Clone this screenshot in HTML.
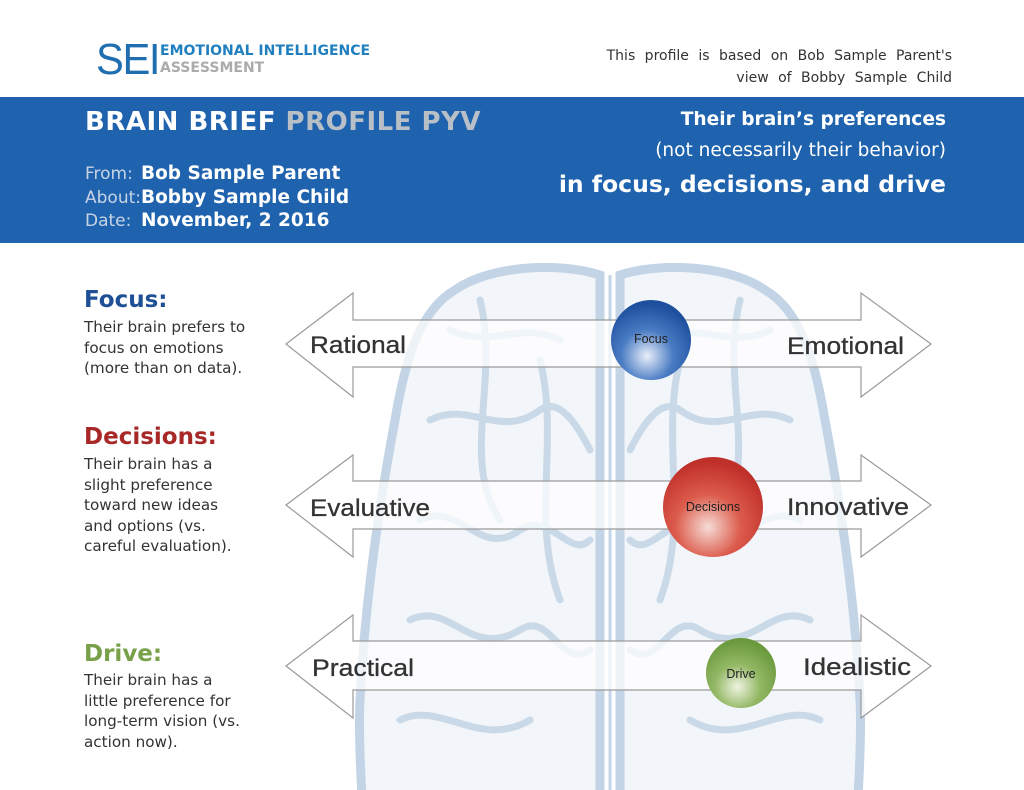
<!DOCTYPE html>
<html><head><meta charset="utf-8"><style>
*{margin:0;padding:0}
body{width:1024px;height:790px;position:relative;background:#fff;overflow:hidden;font-family:"DejaVu Sans","Liberation Sans",sans-serif}
.a{position:absolute;white-space:nowrap}
.band{position:absolute;left:0;top:97px;width:1024px;height:146px;background:#1f62ad}
.w{color:#fff;font-weight:bold}
.lab{color:#c8d4e6;font-size:17px}
.p{color:#333;font-size:15.2px;line-height:20.5px}
.h{font-size:23px;font-weight:bold}
</style></head><body>
<div class="a" style="left:96px;top:36px;font-family:'Liberation Sans',sans-serif;font-size:44px;color:#1f6fb0;letter-spacing:-1.5px;line-height:48px;transform:scaleX(0.95);transform-origin:left">SEI</div>
<div class="a" style="left:160px;top:43px;font-size:14px;font-weight:bold;color:#1f7fbf;line-height:17px">EMOTIONAL INTELLIGENCE</div>
<div class="a" style="left:160px;top:60px;font-size:14px;font-weight:bold;color:#a9abad;line-height:17px">ASSESSMENT</div>
<div class="a" style="right:72px;top:45px;font-size:14px;color:#333;text-align:right;line-height:22px;word-spacing:5px">This profile is based on Bob Sample Parent's<br>view of Bobby Sample Child</div>
<div class="band"></div>
<div class="a w" style="left:85px;top:107px;font-size:26px;letter-spacing:0.5px">BRAIN BRIEF <span style="color:#b9bfc7">PROFILE PYV</span></div>
<div class="a lab" style="left:85px;top:164px">From:</div>
<div class="a lab" style="left:85px;top:188px">About:</div>
<div class="a lab" style="left:85px;top:211px">Date:</div>
<div class="a w" style="left:141px;top:163px;font-size:18.5px">Bob Sample Parent</div>
<div class="a w" style="left:141px;top:187px;font-size:18.5px">Bobby Sample Child</div>
<div class="a w" style="left:141px;top:210px;font-size:18.5px">November, 2 2016</div>
<div class="a w" style="right:78px;top:109px;font-size:18.6px">Their brain’s preferences</div>
<div class="a" style="right:78px;top:140px;font-size:18.5px;color:#fff">(not necessarily their behavior)</div>
<div class="a w" style="right:78px;top:170px;font-size:23.5px">in focus, decisions, and drive</div>

<svg class="a" style="left:0;top:0" width="1024" height="790">
<defs>
<radialGradient id="gb" cx="0.45" cy="0.7" r="0.65"><stop offset="0" stop-color="#e8eef8"/><stop offset="0.5" stop-color="#4a7cc4"/><stop offset="1" stop-color="#1d4f9e"/></radialGradient>
<radialGradient id="gr" cx="0.45" cy="0.7" r="0.65"><stop offset="0" stop-color="#f6dcd6"/><stop offset="0.5" stop-color="#dc5c4c"/><stop offset="1" stop-color="#c0302a"/></radialGradient>
<radialGradient id="gg" cx="0.45" cy="0.7" r="0.65"><stop offset="0" stop-color="#eef3e0"/><stop offset="0.5" stop-color="#93b865"/><stop offset="1" stop-color="#6b9a3e"/></radialGradient>
</defs>
<g fill="#f2f5f9" stroke="#c2d4e6" stroke-width="9">
<path d="M600 275 C560 262 490 265 455 290 C420 310 405 360 395 420 C380 500 365 600 360 700 C358 740 362 790 362 800 L600 800 Z"/>
<path d="M620 275 C660 262 730 265 765 290 C800 310 815 360 825 420 C840 500 855 600 860 700 C862 740 858 790 858 800 L620 800 Z"/>
</g>
<g fill="none" stroke="#c9d9e8" stroke-width="7" stroke-linecap="round">
<path d="M450 330 C490 350 520 320 560 340 M430 420 C470 400 500 440 540 410 C560 395 580 430 590 450 M420 520 C460 500 480 560 520 530 C550 510 570 560 590 540 M410 620 C450 600 470 660 520 630 C550 610 560 670 590 650 M400 720 C440 700 480 750 530 720 M480 300 C500 380 460 460 500 520 M540 360 C560 440 530 520 560 600"/>
<path d="M770 330 C730 350 700 320 660 340 M790 420 C750 400 720 440 680 410 C660 395 640 430 630 450 M800 520 C760 500 740 560 700 530 C670 510 650 560 630 540 M810 620 C770 600 750 660 700 630 C670 610 660 670 630 650 M820 720 C780 700 740 750 690 720 M740 300 C720 380 760 460 720 520 M680 360 C660 440 690 520 660 600"/>
</g>
<line x1="610" y1="275" x2="610" y2="790" stroke="#c2d4e6" stroke-width="3"/>
<g fill="#fff" fill-opacity="0.72" stroke="#9a9a9a" stroke-width="1.2">
<path d="M286 344 L353 293 L353 320 L861 320 L861 293 L931 344 L861 397 L861 367 L353 367 L353 397 Z"/>
<path d="M286 505 L353 455 L353 481 L861 481 L861 455 L931 505 L861 557 L861 529 L353 529 L353 557 Z"/>
<path d="M286 666 L353 615 L353 641 L861 641 L861 615 L931 666 L861 718 L861 690 L353 690 L353 718 Z"/>
</g>
<g font-family="'Liberation Sans',sans-serif" fill="#333" stroke="#333" stroke-width="0.3" font-size="24">
<text x="310" y="353" textLength="96" lengthAdjust="spacingAndGlyphs">Rational</text>
<text x="787" y="354" textLength="117" lengthAdjust="spacingAndGlyphs">Emotional</text>
<text x="310" y="516" textLength="120" lengthAdjust="spacingAndGlyphs">Evaluative</text>
<text x="787" y="515" textLength="122" lengthAdjust="spacingAndGlyphs">Innovative</text>
<text x="312" y="676" textLength="102" lengthAdjust="spacingAndGlyphs">Practical</text>
<text x="803" y="675" textLength="108" lengthAdjust="spacingAndGlyphs">Idealistic</text>
</g>
<circle cx="651" cy="340" r="40" fill="url(#gb)"/>
<circle cx="713" cy="507" r="50" fill="url(#gr)"/>
<circle cx="741" cy="673" r="35" fill="url(#gg)"/>
<g font-family="'Liberation Sans',sans-serif" fill="#222" font-size="12.5" text-anchor="middle">
<text x="651" y="343">Focus</text>
<text x="713" y="511">Decisions</text>
<text x="741" y="678">Drive</text>
</g>
</svg>

<div class="a h" style="left:84px;top:287px;color:#1f4f95">Focus:</div>
<div class="a p" style="left:84px;top:317px">Their brain prefers to<br>focus on emotions<br>(more than on data).</div>
<div class="a h" style="left:84px;top:424px;color:#a82828">Decisions:</div>
<div class="a p" style="left:84px;top:454px">Their brain has a<br>slight preference<br>toward new ideas<br>and options (vs.<br>careful evaluation).</div>
<div class="a h" style="left:84px;top:641px;color:#79a04a">Drive:</div>
<div class="a p" style="left:84px;top:670px">Their brain has a<br>little preference for<br>long-term vision (vs.<br>action now).</div>
</body></html>
